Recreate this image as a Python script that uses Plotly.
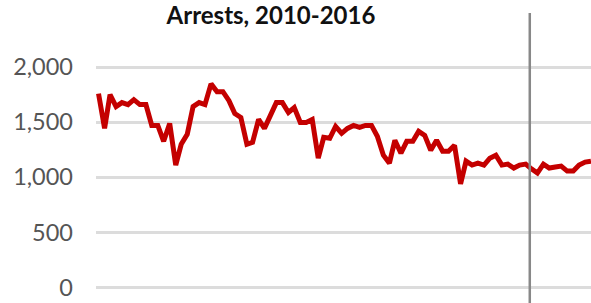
import pandas as pd
import plotly.graph_objects as go

# Monthly arrests, Jan 2010 - Dec 2016
MONTHS = pd.date_range("2010-01-01", periods=84, freq="MS")
ARRESTS = [
    1758, 1443, 1749, 1641, 1677, 1659, 1704, 1659, 1659, 1470, 1470, 1326,
    1488, 1110, 1299, 1389, 1641, 1677, 1659, 1847, 1776, 1776, 1695, 1578,
    1542, 1299, 1317, 1524, 1443, 1551, 1677, 1677, 1587, 1632, 1497, 1497,
    1524, 1173, 1362, 1353, 1461, 1398, 1443, 1470, 1452, 1470, 1470, 1371,
    1200, 1128, 1335, 1218, 1326, 1326, 1416, 1380, 1245, 1335, 1236, 1236,
    1290, 939, 1146, 1110, 1128, 1110, 1173, 1200, 1110, 1119, 1083, 1110,
    1119, 1074, 1038, 1119, 1083, 1092, 1101, 1056, 1056, 1110, 1137, 1146,
]
Y_TICKS = [0, 500, 1000, 1500, 2000]
Y_TICK_LABELS = ["0", "500", "1,000", "1,500", "2,000"]
MARKER_DATE = "2016-01-22"
TITLE = "Arrests, 2010-2016"

fig = go.Figure()
fig.add_trace(go.Scatter(
    x=MONTHS, y=ARRESTS, mode="lines",
    line=dict(color="#c40000", width=5),
    hoverinfo="x+y", showlegend=False,
))

fig.add_shape(type="line", xref="x", yref="paper",
              x0=MARKER_DATE, x1=MARKER_DATE, y0=0, y1=1,
              line=dict(color="#888888", width=2.5))

fig.update_layout(
    width=591, height=303,
    margin=dict(l=96, r=0, t=13, b=0),
    paper_bgcolor="white", plot_bgcolor="white",
    title=dict(text=TITLE, x=0.4585, xanchor="center", xref="container",
               y=0.948, yanchor="middle", yref="container",
               font=dict(family="Lato", size=24, color="#111111", weight="bold")),
    xaxis=dict(visible=False, range=["2009-12-19", "2016-12-01"]),
    yaxis=dict(range=[-141, 2490], tickvals=Y_TICKS, ticktext=Y_TICK_LABELS,
               showgrid=True, gridcolor="#dcdcdc", gridwidth=2.5,
               zeroline=False, showline=False,
               ticks="", ticklabelstandoff=22,
               tickfont=dict(family="Lato", size=23.5, color="#555555")),
)

fig.write_html("out.html",
               config={"displayModeBar": False},
               post_script="document.body.style.margin='0';document.body.style.overflow='hidden';")
